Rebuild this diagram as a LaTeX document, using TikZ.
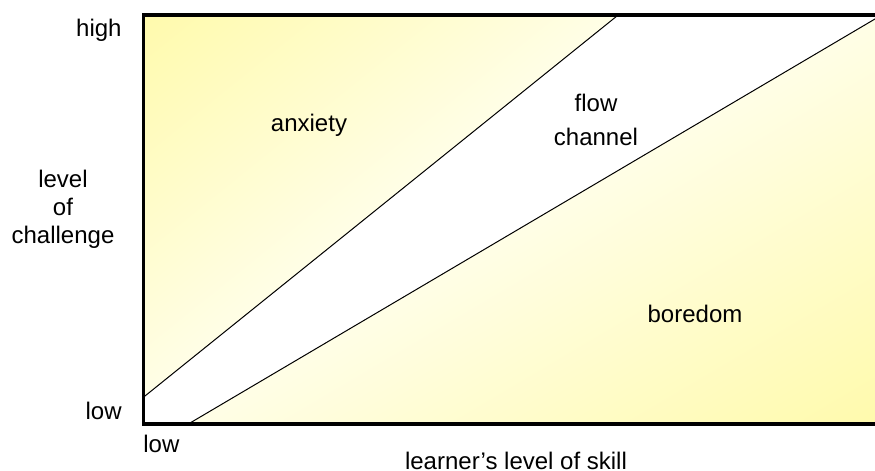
\documentclass[tikz,border=0pt]{standalone}
\usepackage{fontspec}
\setmainfont{Liberation Sans}
\definecolor{hiyel}{RGB}{255,250,172}
\definecolor{loyel}{RGB}{255,254,230}
\begin{document}
\begin{tikzpicture}[x=0.5pt,y=-0.5pt,
  lbl/.style={font=\fontsize{12}{14}\selectfont, anchor=base, inner sep=0pt},
  zone/.style={line width=0.5pt, black},
  frameline/.style={line width=1.65pt, black, line join=miter}]
\useasboundingbox (0,0) rectangle (875,471);
\fill[white] (0,0) rectangle (875,471);
% anxiety zone
\begin{scope}
  \clip (143.5,15) -- (618.2,15) -- (143.5,397.2) -- cycle;
  \begin{scope}[transform canvas={rotate around={38.84:(145,396)}}]
    \shade[top color=hiyel, bottom color=loyel] (120,396) rectangle (770,96);
  \end{scope}
\end{scope}
% boredom zone
\begin{scope}
  \clip (188.3,424) -- (877,17.8) -- (877,424) -- cycle;
  \begin{scope}[transform canvas={rotate around={30.53:(190,423)}}]
    \shade[top color=loyel, bottom color=hiyel] (170,423) rectangle (1010,775);
  \end{scope}
\end{scope}
% boundary lines
\coordinate (a1) at (143.5,397.2);
\coordinate (a2) at (618.2,15);
\coordinate (b1) at (188.3,424);
\coordinate (b2) at (877,17.8);
\draw[zone] (a1) -- (a2);
\draw[zone] (b1) -- (b2);
% frame
\coordinate (tr) at (880,15);
\coordinate (tl) at (143.5,15);
\coordinate (bl) at (143.5,424);
\coordinate (br) at (880,424);
\draw[frameline] (tr) -- (tl) -- (bl) -- (br);
% labels
\node[lbl, anchor=base east] (high) at (122,37) {high};
\node[lbl, anchor=base east] (lowy) at (122,419) {low};
\node[lbl, anchor=base west] (lowx) at (143,452) {low};
\node[lbl] (xlab) at (516,469) {learner’s level of skill};
\node[lbl] (ylab1) at (63,187) {level};
\node[lbl] (ylab2) at (63,215) {of};
\node[lbl] (ylab3) at (63,243) {challenge};
\node[lbl] (anx) at (309,132) {anxiety};
\node[lbl] (flow1) at (596,112) {flow};
\node[lbl] (flow2) at (596,145) {channel};
\node[lbl] (bor) at (695,322) {boredom};
\end{tikzpicture}
\end{document}
